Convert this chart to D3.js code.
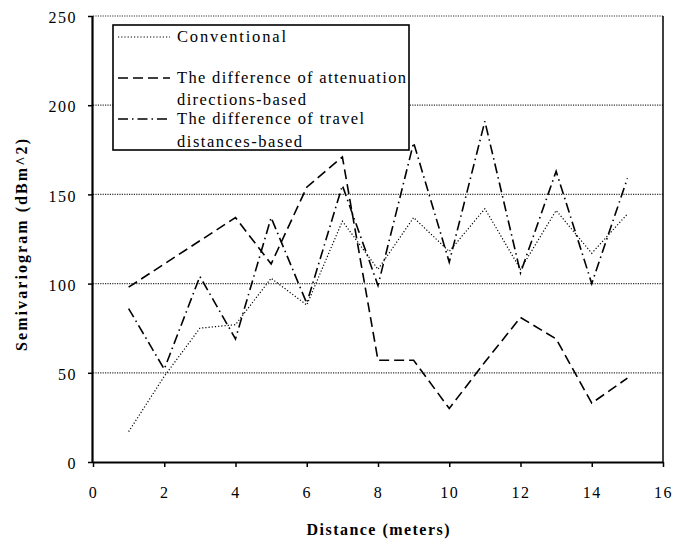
<!DOCTYPE html>
<html>
<head>
<meta charset="utf-8">
<script src="https://cdn.jsdelivr.net/npm/d3@7"></script>
<style>
  html, body { margin: 0; padding: 0; background: #fff; }
  svg { display: block; }
  svg text { font-family: "Liberation Serif", "Times New Roman", Times, "DejaVu Serif", serif; fill: #000; }
</style>
</head>
<body>
<svg id="chart" width="675" height="542"></svg>
<script>
// ---- data ----
const distances = [1, 2, 3, 4, 5, 6, 7, 8, 9, 10, 11, 12, 13, 14, 15];
const conventional = [17, 48, 75, 77, 103, 88, 135, 108, 137, 118, 142, 108, 141, 117, 139];
const attenuation = [98, 111, 124, 137, 111, 154, 171, 57, 57, 30, 56, 81, 69, 33, 47];
const travel = [86, 52, 104, 69, 137, 89, 155, 99, 179, 112, 191, 106, 163, 100, 159];
const xTicks = [0, 2, 4, 6, 8, 10, 12, 14, 16];
const yTicks = [0, 50, 100, 150, 200, 250];
const gridValues = [50, 100, 150, 200, 250];

const FONT = '"Liberation Serif", "Times New Roman", Times, "DejaVu Serif", serif';
const svg = d3.select("#chart");
const x = d3.scaleLinear().domain([0, 16]).range([93, 663]);
const y = d3.scaleLinear().domain([0, 250]).range([462, 16]);

// gridlines
svg.append("g").selectAll("line").data(gridValues).join("line")
  .attr("x1", x(0)).attr("x2", x(16))
  .attr("y1", d => y(d)).attr("y2", d => y(d))
  .attr("stroke", "#333").attr("stroke-width", 1.2).attr("stroke-dasharray", "1.2,1.2");

// right border
svg.append("line").attr("x1", x(16)).attr("x2", x(16)).attr("y1", y(250)).attr("y2", y(0))
  .attr("stroke", "#000").attr("stroke-width", 1.5);

// series
const series = [
  { vals: conventional, dash: "1.2,2", width: 1.2 },
  { vals: attenuation, dash: "10,5", width: 1.6 },
  { vals: travel, dash: "10,4,1.5,4", width: 1.6 }
];
const line = d3.line().x(d => x(d[0])).y(d => y(d[1]));
series.forEach(s => {
  svg.append("path")
    .datum(distances.map((d, i) => [d, s.vals[i]]))
    .attr("d", line)
    .attr("fill", "none").attr("stroke", "#000")
    .attr("stroke-width", s.width).attr("stroke-dasharray", s.dash);
});

// axes
const xAxis = d3.axisBottom(x).tickValues(xTicks).tickSize(5).tickPadding(20).tickFormat(d3.format("d"));
const gx = svg.append("g").attr("transform", `translate(0,${y(0)})`).call(xAxis);
gx.attr("font-family", FONT);
gx.select(".domain").attr("stroke", "#000").attr("stroke-width", 2.2).attr("d", `M${x(0)},0.5H${x(16)}`);
gx.selectAll(".tick line").attr("stroke", "#000").attr("stroke-width", 1.5);
gx.selectAll(".tick text").attr("font-size", 16)
  .attr("letter-spacing", "1.5px").attr("fill", "#000");

const yAxis = d3.axisLeft(y).tickValues(yTicks).tickSize(5).tickPadding(11).tickFormat(d3.format("d"));
const gy = svg.append("g").attr("transform", `translate(${x(0)},0)`).call(yAxis);
gy.attr("font-family", FONT);
gy.select(".domain").attr("stroke", "#000").attr("stroke-width", 2.2).attr("d", `M-0.5,${y(250)}V${y(0)}`);
gy.selectAll(".tick line").attr("stroke", "#000").attr("stroke-width", 1.5);
gy.selectAll(".tick text").attr("font-size", 16)
  .attr("letter-spacing", "1.5px").attr("dy", "0.42em").attr("fill", "#000");

// axis titles
svg.append("text").attr("x", 378).attr("y", 535).attr("text-anchor", "middle")
  .attr("font-size", 16).attr("font-weight", "bold")
  .attr("textLength", 143).attr("lengthAdjust", "spacing")
  .text("Distance (meters)");
svg.append("text").attr("transform", "translate(27,245) rotate(-90)").attr("text-anchor", "middle")
  .attr("font-size", 16).attr("font-weight", "bold")
  .attr("textLength", 212).attr("lengthAdjust", "spacing")
  .text("Semivariogram (dBm^2)");

// legend
const lg = svg.append("g");
lg.append("rect").attr("x", 113).attr("y", 25).attr("width", 296).attr("height", 125)
  .attr("fill", "#fff").attr("stroke", "#000").attr("stroke-width", 1.6);
const legendItems = [
  { sy: 37, dash: "1.2,2", width: 1.2, lines: [{ t: "Conventional", b: 42, w: 109 }] },
  { sy: 78, dash: "10,5", width: 1.6, lines: [{ t: "The difference of attenuation", b: 83, w: 229 }, { t: "directions-based", b: 105, w: 129 }] },
  { sy: 119, dash: "10,4,1.5,4", width: 1.6, lines: [{ t: "The difference of travel", b: 124, w: 187 }, { t: "distances-based", b: 147, w: 125 }] }
];
legendItems.forEach(it => {
  lg.append("line").attr("x1", 118).attr("x2", 170).attr("y1", it.sy).attr("y2", it.sy)
    .attr("stroke", "#000").attr("stroke-width", it.width).attr("stroke-dasharray", it.dash);
  it.lines.forEach(l => {
    lg.append("text").attr("x", 177).attr("y", l.b).attr("font-size", 16.5)
      .attr("textLength", l.w).attr("lengthAdjust", "spacing").text(l.t);
  });
});
</script>
</body>
</html>
